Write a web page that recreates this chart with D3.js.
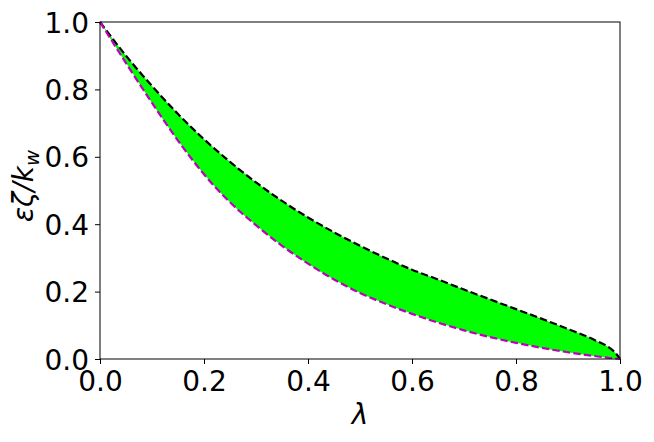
<!DOCTYPE html>
<html><head><meta charset="utf-8">
<script src="https://cdn.jsdelivr.net/npm/d3@7"></script>
<style>body{margin:0;background:#fff}svg{display:block}</style>
</head><body>
<svg id="c" width="654" height="442"></svg>
<script>
const lambdas = [0, 0.05, 0.1, 0.15, 0.2, 0.25, 0.3, 0.35, 0.4, 0.45, 0.5, 0.55, 0.6, 0.65, 0.7, 0.75, 0.8, 0.85, 0.9, 0.95, 0.98, 0.99, 1.0];
const upperVals = [1, 0.900, 0.810, 0.727, 0.652, 0.585, 0.524, 0.469, 0.420, 0.376, 0.336, 0.299, 0.265, 0.236, 0.206, 0.177, 0.148, 0.119, 0.089, 0.057, 0.033, 0.020, 0];
const lowerVals = [1, 0.878, 0.760, 0.648, 0.548, 0.465, 0.397, 0.336, 0.283, 0.236, 0.196, 0.163, 0.134, 0.108, 0.085, 0.065, 0.048, 0.033, 0.020, 0.009, 0.003, 0.0015, 0];
const xTicks = [0, 0.2, 0.4, 0.6, 0.8, 1.0];
const yTicks = [0, 0.2, 0.4, 0.6, 0.8, 1.0];

const svg = d3.select("#c");
const m = {l:100, r:620, t:22, b:359};
const x = d3.scaleLinear().domain([0,1]).range([m.l, m.r]);
const y = d3.scaleLinear().domain([0,1]).range([m.b, m.t]);
const font = "DejaVu Sans";
const fs = 28;

const data = lambdas.map((l,i)=>({l, u:upperVals[i], lo:lowerVals[i]}));
const curve = d3.curveMonotoneX;

svg.append("path").datum(data)
  .attr("d", d3.area().x(d=>x(d.l)).y0(d=>y(d.lo)).y1(d=>y(d.u)).curve(curve))
  .attr("fill", "#00ff00");

svg.append("path").datum(data)
  .attr("d", d3.line().x(d=>x(d.l)).y(d=>y(d.u)).curve(curve))
  .attr("fill","none").attr("stroke","#000").attr("stroke-width",2.2)
  .attr("stroke-dasharray","7.4,3.2");

svg.append("path").datum(data)
  .attr("d", d3.line().x(d=>x(d.l)).y(d=>y(d.lo)).curve(curve))
  .attr("fill","none").attr("stroke","#bf00bf").attr("stroke-width",2.2)
  .attr("stroke-dasharray","7.4,3.2");

// axes
const xAxis = d3.axisBottom(x).tickValues(xTicks).tickFormat(d3.format(".1f")).tickSize(5).tickPadding(7);
const yAxis = d3.axisLeft(y).tickValues(yTicks).tickFormat(d3.format(".1f")).tickSize(5).tickPadding(6);
const gx = svg.append("g").attr("transform",`translate(0,${m.b})`).call(xAxis);
const gy = svg.append("g").attr("transform",`translate(${m.l},0)`).call(yAxis);
[gx,gy].forEach(g=>{
  g.select(".domain").remove();
  g.selectAll("text").attr("font-family",font).attr("font-size",fs).attr("fill","#000");
  g.selectAll("line").attr("stroke","#000").attr("stroke-width",1);
});
gy.selectAll("text").attr("dy","0.36em");

svg.append("rect").attr("x",m.l).attr("y",m.t).attr("width",m.r-m.l).attr("height",m.b-m.t)
  .attr("fill","none").attr("stroke","#000").attr("stroke-width",1);

// labels
svg.append("text").attr("x",(m.l+m.r)/2).attr("y",424).attr("text-anchor","middle")
  .attr("font-family",font).attr("font-size",fs).attr("font-style","italic").text("λ");

const yl = svg.append("text").attr("transform",`translate(33,186) rotate(-90)`)
  .attr("text-anchor","middle").attr("font-family",font).attr("font-size",fs).attr("font-style","italic");
yl.append("tspan").text("εζ/k");
const sub = yl.append("tspan").attr("dy",6).attr("font-size",fs*0.7).text("w");
// keep label length near the reference's ~80px
const w = yl.node().getBBox().width;
if (w > 84) {
  const f = fs * 80 / w;
  yl.attr("font-size", f);
  sub.attr("font-size", f*0.7).attr("dy", 6*f/fs);
}
</script>
</body></html>
